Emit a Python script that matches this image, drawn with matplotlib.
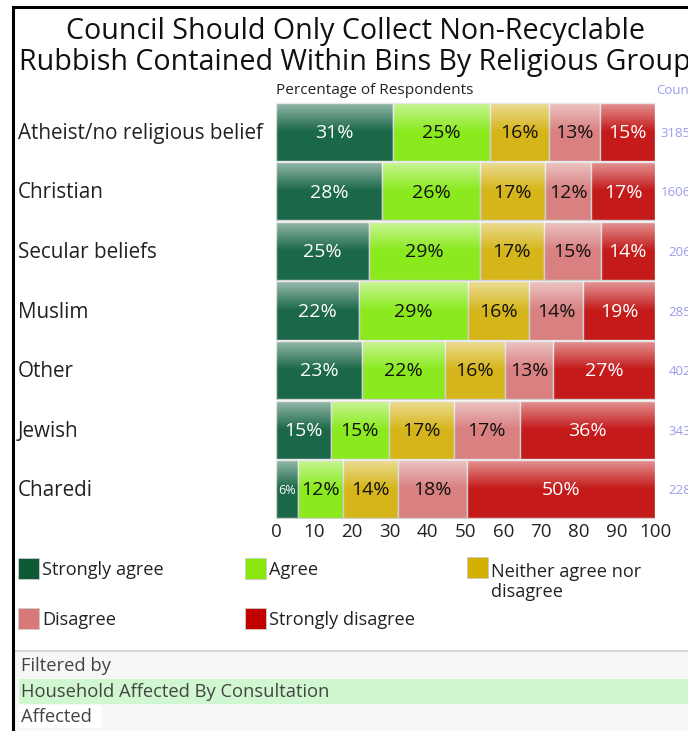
import matplotlib
matplotlib.use("Agg")
import matplotlib.pyplot as plt
from matplotlib.patches import Rectangle
import numpy as np

plt.rcParams['font.family'] = ['Open Sans', 'DejaVu Sans']

title = "Council Should Only Collect Non-Recyclable\nRubbish Contained Within Bins By Religious Group"
groups = ["Atheist/no religious belief", "Christian", "Secular beliefs", "Muslim",
          "Other", "Jewish", "Charedi"]
series_names = ["Strongly agree", "Agree", "Neither agree nor\ndisagree", "Disagree",
                "Strongly disagree"]
strongly_agree = [30.9, 28.0, 24.5, 21.9, 22.7, 14.4, 5.9]
agree = [25.6, 25.9, 29.3, 28.8, 21.9, 15.4, 11.9]
neither = [15.6, 17.2, 16.9, 16.1, 15.8, 17.2, 14.4]
disagree = [13.4, 12.1, 15.0, 14.3, 12.7, 17.3, 18.1]
strongly_disagree = [14.5, 16.8, 14.3, 18.9, 26.9, 35.7, 49.7]
counts = ["3185", "1606", "206", "285", "402", "343", "228"]
labels = [["31%", "25%", "16%", "13%", "15%"],
          ["28%", "26%", "17%", "12%", "17%"],
          ["25%", "29%", "17%", "15%", "14%"],
          ["22%", "29%", "16%", "14%", "19%"],
          ["23%", "22%", "16%", "13%", "27%"],
          ["15%", "15%", "17%", "17%", "36%"],
          ["6%", "12%", "14%", "18%", "50%"]]
xticks = [0, 10, 20, 30, 40, 50, 60, 70, 80, 90, 100]

colors = ["#1b6849", "#8aea1e", "#d6b51a", "#d98080", "#c41a1a"]
legend_colors = ["#0d5a34", "#88e80c", "#d4b000", "#d87878", "#c00000"]
text_colors = ["white", "#111111", "#111111", "#111111", "white"]

W, H = 688, 731
fig = plt.figure(figsize=(W / 100, H / 100), dpi=100)

def fx(px):
    return px / W

def fy(py):
    return 1 - py / H

# footer background
fig.add_artist(Rectangle((fx(13), 0), fx(688 - 13), (731 - 651) / H,
                         facecolor="#f7f7f7", edgecolor="none"))
fig.add_artist(plt.Line2D([fx(13), fx(688)], [fy(651), fy(651)], color="#cfcfcf", lw=1.2))
fig.add_artist(Rectangle((fx(19), fy(704)), fx(688 - 19), 25 / H,
                         facecolor="#d0f7d0", edgecolor="none"))
fig.add_artist(Rectangle((fx(19), fy(728)), fx(102 - 19), 23 / H,
                         facecolor="white", edgecolor="none"))
fig.text(fx(21), fy(666), "Filtered by", ha="left", va="center", fontsize=13.2, color="#444444")
fig.text(fx(21), fy(692), "Household Affected By Consultation", ha="left", va="center",
         fontsize=13.2, color="#444444")
fig.text(fx(21), fy(717), "Affected", ha="left", va="center", fontsize=13.2, color="#444444")

# border lines (left and top)
fig.add_artist(plt.Line2D([fx(13), fx(13)], [fy(7), fy(731)], color="black", lw=2.2))
fig.add_artist(plt.Line2D([fx(13), fx(688)], [fy(7), fy(7)], color="black", lw=2.2))

# title
fig.text(fx(355), fy(47), title, ha="center", va="center", fontsize=20.6,
         color="#111111", linespacing=1.12)

ax_left, ax_right, ax_top, ax_bottom = 276, 655, 102, 519
ax = fig.add_axes([fx(ax_left), fy(ax_bottom), fx(ax_right - ax_left), (ax_bottom - ax_top) / H])

data = np.array([strongly_agree, agree, neither, disagree, strongly_disagree])
n = len(groups)
ypos = np.arange(n)[::-1]
h = 0.975

grad = np.zeros((100, 2, 4))
grad[..., :3] = 1.0
a = np.clip(0.55 * (1 - np.linspace(0, 1, 100) / 0.5), 0, None)
grad[..., 3] = a[:, None]

left = np.zeros(n)
for s in range(5):
    bars = ax.barh(ypos, data[s], left=left, height=h, color=colors[s],
                   edgecolor="#d0d0d0", linewidth=1.0, zorder=2)
    for i, b in enumerate(bars):
        x0 = left[i]
        x1 = left[i] + data[s][i]
        ax.imshow(grad, extent=(x0, x1, ypos[i] - h / 2, ypos[i] + h / 2),
                  origin="upper", aspect="auto", zorder=3, interpolation="bilinear")
        lab = labels[i][s]
        fs = 14 if data[s][i] > 8 else 9
        ax.text((x0 + x1) / 2, ypos[i] - 0.02, lab, ha="center", va="center",
                color=text_colors[s], fontsize=fs, zorder=4)
    left = left + data[s]

ax.set_xlim(0, 100)
ax.set_ylim(-0.5, n - 0.5)
ax.set_xticks(xticks)
ax.set_xticklabels([str(t) for t in xticks])
ax.set_yticks([])
ax.tick_params(axis="x", length=0, labelsize=13.5, colors="#222222", pad=3)
for sp in ax.spines.values():
    sp.set_visible(False)

# category labels and counts
for i, g in enumerate(groups):
    yc = ax_top + (i + 0.5) * (ax_bottom - ax_top) / n + 1.5
    fig.text(fx(18), fy(yc), g, ha="left", va="center", fontsize=14.9, color="#222222")
    fig.text(fx(691), fy(yc), counts[i], ha="right", va="center", fontsize=9.5,
             color="#9b9bef")

fig.text(fx(276), fy(91), "Percentage of Respondents", ha="left", va="center",
         fontsize=11.1, color="#222222")
fig.text(fx(656), fy(90), "Count", ha="left", va="center", fontsize=9.5, color="#9b9bef")

# legend
leg_pos = [(18, 568), (245, 568), (467, 567), (18, 618), (245, 618)]
for k, (lx, ly) in enumerate(leg_pos):
    fig.add_artist(Rectangle((fx(lx), fy(ly + 10.5)), fx(21), 21 / H,
                             facecolor=legend_colors[k], edgecolor="#cccccc", lw=0.6))
    va_y = ly + 2 if k != 2 else ly + 15
    fig.text(fx(lx + 24), fy(va_y), series_names[k], ha="left", va="center",
             fontsize=13.1, color="#222222", linespacing=1.15)

fig.savefig("out.png", dpi=100)
